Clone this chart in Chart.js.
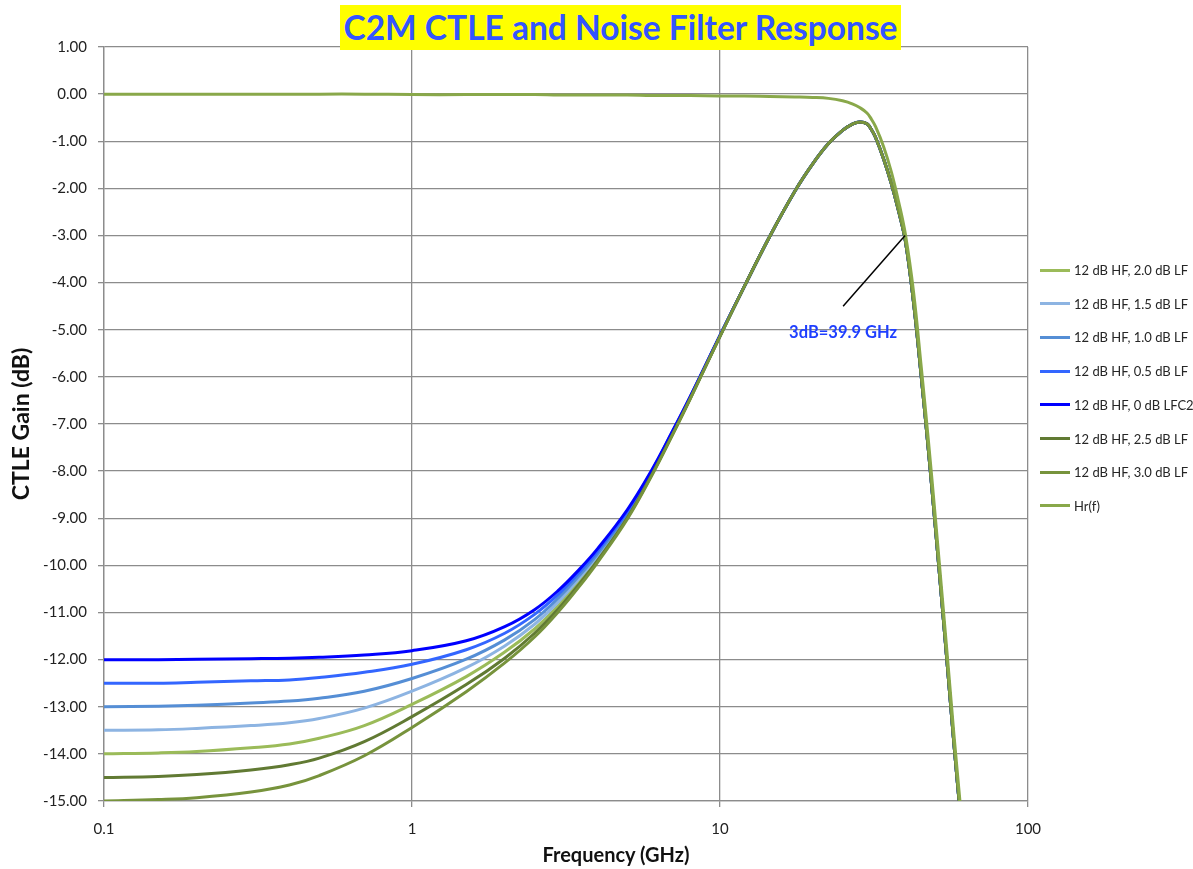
<!DOCTYPE html>
<html>
<head>
<meta charset="utf-8">
<title>C2M CTLE and Noise Filter Response</title>
<script src="https://cdn.jsdelivr.net/npm/chart.js@4.4.1/dist/chart.umd.min.js"></script>
<style>
  body { margin: 0; background: #fff; font-family: Lato, "Liberation Sans", sans-serif; }
  #page { position: relative; width: 1193px; height: 869px; overflow: hidden; }
  #chart { position: absolute; left: 0; top: 0; }
  #title {
    position: absolute; left: 340px; top: 5px; width: 561px; height: 45px;
    background: #ffff00; color: #3355ff; font: bold 33.5px Lato, sans-serif;
    line-height: 45px; text-align: center; white-space: nowrap;
  }
  #xTitle {
    position: absolute; left: 616px; top: 842px; transform: translateX(-50%);
    font: bold 20px Lato, sans-serif; color: #111; white-space: nowrap;
  }
  #legend { position: absolute; left: 1040px; top: 0; }
  .item { position: absolute; left: 0; height: 16px; display: flex; align-items: center; white-space: nowrap; }
  .item .swatch { width: 30px; height: 3px; margin-right: 4px; }
  .item span { font: 13px Lato, sans-serif; color: #262626; }
</style>
</head>
<body>
<div id="page">
  <canvas id="chart" width="1193" height="869"></canvas>
  <div id="title">C2M CTLE and Noise Filter Response</div>
  <div id="xTitle">Frequency (GHz)</div>
  <div id="legend"></div>
</div>
<script>
// frequency points (GHz): low band where the LF settings differ, high band where they merge
const freqLow = [0.1, 0.15, 0.2, 0.3, 0.4, 0.5, 0.7, 1, 1.5, 2, 2.5, 3, 3.5, 4, 5, 6, 7, 8, 10]
const freqHigh = [12, 14.5, 17.5, 20, 22.5, 25, 27, 28.5, 30, 31, 32, 34, 36, 38, 40, 42.5, 45, 47.5, 50, 52.5, 55, 57.5, 60, 62]

// CTLE gain (dB) in the low band, one array per LF setting
const lf00 = [-12.0, -12.0, -11.99, -11.98, -11.97, -11.95, -11.9, -11.81, -11.6, -11.3, -10.94, -10.52, -10.08, -9.65, -8.82, -7.98, -7.16, -6.42, -5.12]
const lf05 = [-12.5, -12.5, -12.48, -12.45, -12.43, -12.38, -12.27, -12.1, -11.79, -11.44, -11.04, -10.6, -10.14, -9.7, -8.86, -8.0, -7.17, -6.43, -5.12]
const lf10 = [-13.0, -12.99, -12.97, -12.92, -12.88, -12.82, -12.67, -12.4, -11.99, -11.58, -11.15, -10.68, -10.21, -9.76, -8.89, -8.02, -7.19, -6.44, -5.13]
const lf15 = [-13.5, -13.49, -13.46, -13.4, -13.34, -13.25, -13.03, -12.67, -12.17, -11.71, -11.25, -10.76, -10.27, -9.81, -8.93, -8.04, -7.2, -6.45, -5.13]
const lf20 = [-14.0, -13.98, -13.95, -13.87, -13.79, -13.67, -13.4, -12.95, -12.36, -11.84, -11.35, -10.84, -10.33, -9.86, -8.96, -8.06, -7.22, -6.46, -5.13]
const lf25 = [-14.5, -14.48, -14.44, -14.34, -14.23, -14.09, -13.74, -13.21, -12.53, -11.97, -11.44, -10.91, -10.39, -9.9, -8.99, -8.08, -7.23, -6.46, -5.14]
const lf30 = [-15.0, -14.97, -14.93, -14.81, -14.66, -14.46, -14.04, -13.44, -12.68, -12.07, -11.52, -10.97, -10.44, -9.94, -9.02, -8.1, -7.24, -6.47, -5.14]

// high band: all CTLE settings follow the same curve
const ctleHigh = [-4.08, -3.02, -2.06, -1.48, -1.05, -0.77, -0.63, -0.59, -0.63, -0.75, -0.92, -1.38, -1.9, -2.48, -3.12, -4.42, -5.98, -7.56, -9.17, -10.76, -12.3, -13.8, -15.14, -16.2]

// noise filter Hr(f)
const hrLow = [0, 0, 0, 0, 0, 0, 0, -0.01, -0.01, -0.01, -0.01, -0.02, -0.02, -0.02, -0.02, -0.03, -0.03, -0.03, -0.04]
const hrHigh = [-0.04, -0.05, -0.06, -0.07, -0.09, -0.14, -0.21, -0.29, -0.4, -0.53, -0.69, -1.12, -1.65, -2.28, -2.98, -4.2, -5.78, -7.36, -8.97, -10.56, -12.1, -13.6, -14.94, -16.0]

const seriesNames = [
  '12 dB HF, 2.0 dB LF',
  '12 dB HF, 1.5 dB LF',
  '12 dB HF, 1.0 dB LF',
  '12 dB HF, 0.5 dB LF',
  '12 dB HF, 0 dB LFC2',
  '12 dB HF, 2.5 dB LF',
  '12 dB HF, 3.0 dB LF',
  'Hr(f)'
]
const seriesLow = [lf20, lf15, lf10, lf05, lf00, lf25, lf30, hrLow]
const seriesColors = ['#9bbb59', '#8db4e2', '#558ed5', '#3366ff', '#0000ff', '#617a33', '#77933c', '#89a84a']

const yTicks = { min: -15, max: 1, step: 1 }
const xTicks = [0.1, 1, 10, 100]

// 3 dB marker
const noteText = '3dB=39.9 GHz'
const noteAt = { f: 39.9, g: -3.0 }
const noteFrom = { f: 25.1, g: -4.5 }
const noteLabel = { f: 25.1, g: -5.07 }

const allFreq = freqLow.concat(freqHigh)
const datasets = seriesNames.map((name, i) => {
  const high = i === 7 ? hrHigh : ctleHigh
  const ys = seriesLow[i].concat(high)
  return {
    label: name,
    data: allFreq.map((f, k) => ({ x: f, y: ys[k] })),
    borderColor: seriesColors[i],
    backgroundColor: seriesColors[i],
    borderWidth: 3,
    pointRadius: 0,
    fill: false,
    tension: 0.4,
    order: seriesNames.length - i
  }
})

const notePlugin = {
  id: 'note',
  afterDatasetsDraw(chart) {
    const x = chart.scales.x, y = chart.scales.y, ctx = chart.ctx
    ctx.save()
    ctx.strokeStyle = '#000'
    ctx.lineWidth = 1.5
    ctx.beginPath()
    ctx.moveTo(x.getPixelForValue(noteFrom.f), y.getPixelForValue(noteFrom.g))
    ctx.lineTo(x.getPixelForValue(noteAt.f), y.getPixelForValue(noteAt.g))
    ctx.stroke()
    ctx.fillStyle = '#1f3fff'
    ctx.font = 'bold 16.5px Lato, sans-serif'
    ctx.textAlign = 'center'
    ctx.textBaseline = 'middle'
    ctx.fillText(noteText, x.getPixelForValue(noteLabel.f), y.getPixelForValue(noteLabel.g))
    ctx.restore()
  }
}

const gridColor = '#8c8c8c'
const chart = new Chart(document.getElementById('chart'), {
  type: 'line',
  data: { datasets },
  plugins: [notePlugin],
  options: {
    responsive: false,
    animation: false,
    layout: { padding: { top: 47, right: 165, bottom: 0, left: 0 } },
    plugins: { legend: { display: false }, tooltip: { enabled: false } },
    scales: {
      x: {
        type: 'logarithmic',
        min: 0.1,
        max: 100,
        afterBuildTicks: (s) => { s.ticks = xTicks.map(v => ({ value: v })) },
        afterFit: (s) => { s.height = 68 },
        ticks: {
          color: '#222',
          font: { family: 'Lato', size: 15 },
          padding: 13,
          autoSkip: false,
          maxRotation: 0,
          callback: (v) => String(v)
        },
        grid: { color: gridColor, lineWidth: 1.3, tickLength: 6 },
        border: { color: gridColor, width: 1.3 }
      },
      y: {
        min: yTicks.min,
        max: yTicks.max,
        afterFit: (s) => { s.width = 104 },
        ticks: {
          stepSize: yTicks.step,
          color: '#222',
          font: { family: 'Lato', size: 15 },
          padding: 11,
          callback: (v) => Number(v).toFixed(2)
        },
        grid: { color: gridColor, lineWidth: 1.3, tickLength: 6 },
        border: { color: gridColor, width: 1.3 },
        title: {
          display: true,
          text: 'CTLE Gain (dB)',
          color: '#111',
          font: { family: 'Lato', size: 23, weight: 'bold' },
          padding: { top: 8, bottom: 0 }
        }
      }
    }
  }
})

// legend built from the datasets
const legend = document.getElementById('legend')
datasets.forEach((d, i) => {
  const row = document.createElement('div')
  row.className = 'item'
  row.style.top = (262 + i * 33.7) + 'px'
  row.innerHTML = '<div class="swatch" style="background:' + d.borderColor + '"></div><span>' + d.label + '</span>'
  legend.appendChild(row)
})
</script>
</body>
</html>
